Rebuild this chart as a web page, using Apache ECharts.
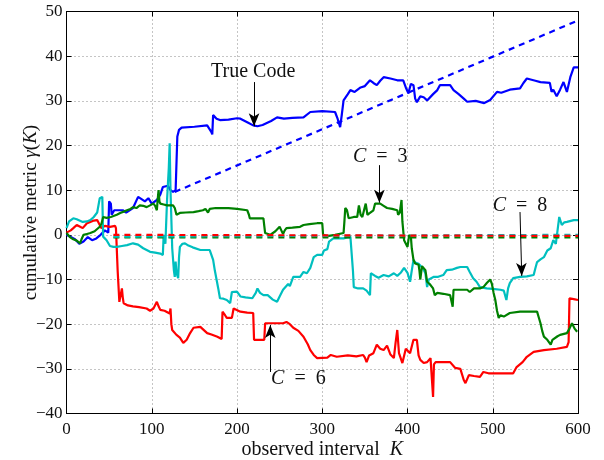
<!DOCTYPE html>
<html>
<head>
<meta charset="utf-8">
<script src="https://cdn.jsdelivr.net/npm/echarts@6/dist/echarts.min.js"></script>
<style>html,body{margin:0;padding:0;background:#fff}#c{width:604px;height:460px}</style>
</head>
<body>
<div id="c"></div>
<script>
// ---- data ----
const trueCode = [[0,0],[5,-0.5],[10,-1],[15,-2],[20,-1.5],[25,-0.5],[30,-1.2],[35,-0.8],[40,0],[45,1],[49,0.5],[50,7.5],[52,7],[53,4.5],[56,5.5],[60,5.5],[66,5.5],[70,5],[78,6],[84,8.5],[88,8],[92,7.5],[96,8.2],[100,7],[106,7.8],[110,9],[113,10.7],[119,11],[122,10],[125,9.6],[128,10],[130,22],[132,23.5],[135,24],[150,24.2],[165,24.5],[170,23],[171,22.5],[172,26.8],[176,26],[180,25.7],[190,25.8],[200,26.1],[204,26],[212,25.2],[219,24.5],[224,24.3],[230,24.6],[240,25.5],[247,26.3],[255,26],[265,26.2],[278,26.3],[286,27.5],[300,27.7],[315,27.5],[318,26],[321,24.1],[323,27],[325,30.1],[330,31.5],[333,32.4],[338,32],[345,33],[350,33.3],[356,34.6],[360,34],[364,33.5],[368,34.5],[372,35.3],[380,35],[388,34.6],[395,34.6],[398,33],[401,31.7],[404,33.8],[407,33.5],[409,30.5],[411,29.7],[415,31],[419,30.8],[423,30.1],[430,31.5],[435,32.4],[438,33.5],[442,33.5],[450,33.5],[454,32.4],[460,31.5],[466,30.5],[470,29.8],[480,30],[490,29.5],[497,30.2],[505,32],[510,31.8],[520,32.5],[532,32.8],[536,34],[540,35],[550,34.5],[556,34.2],[567,34],[569,32],[571,32.5],[575,31],[579,32.5],[583,34.2],[587,32],[591,35.3],[595,37.5],[600,37.5]];
const c6 = [[0,0.5],[5,1],[8,1.5],[12,2.2],[16,1.8],[19,1.5],[24,2.6],[28,2.9],[32,3.2],[36,3.3],[39,2.2],[41,1.5],[45,2],[51,1.8],[57,2],[58,1.5],[60,-8],[62,-15],[64,-13],[65,-12],[66,-14],[67,-15.3],[72,-15.8],[78,-16],[85,-16.2],[94,-16.5],[98,-17],[102,-16.5],[106,-15],[108,-16],[110,-16.8],[115,-17],[121,-17.6],[122,-16.5],[123,-20],[124,-21.3],[129,-22.4],[133,-23],[137,-24.2],[141,-23.5],[145,-22],[149,-20.8],[157,-20.6],[165,-22],[170,-22.3],[177,-22.8],[182,-23.3],[183,-17.2],[186,-18],[188,-18.6],[194,-18.6],[196,-16.5],[198,-16.1],[204,-17.2],[212,-17.4],[219,-17.5],[220,-23.5],[227,-23.5],[232,-23.5],[233,-19.8],[239,-19.8],[254,-19.8],[258,-19.5],[262,-20],[266,-20.8],[272,-21.5],[278,-22.8],[283,-24.5],[286,-25.8],[290,-26.9],[294,-27.6],[306,-27.5],[310,-26.9],[317,-27.3],[330,-27],[340,-27.2],[348,-26.9],[350,-27.5],[352,-28.5],[355,-27],[360,-26.5],[364,-24.6],[368,-25.5],[372,-25.8],[376,-24.8],[380,-26.8],[384,-27.6],[386,-24.2],[388,-21.3],[390,-26.5],[394,-28.7],[398,-25.5],[403,-26.5],[407,-23.5],[409,-23.1],[411,-23.5],[413,-27],[415,-28],[419,-28.7],[423,-28.5],[427,-27.6],[429,-28],[430,-36.3],[431,-29],[433,-28.5],[450,-28.5],[456,-29.8],[462,-30],[466,-32.5],[468,-33.2],[472,-31.4],[478,-31.6],[485,-31.8],[489,-30.7],[495,-31],[509,-31],[524,-31],[528,-29.6],[535,-28.5],[540,-27.3],[548,-26.2],[560,-25.8],[575,-25.5],[587,-25.1],[589,-24],[590,-14.2],[595,-14.4],[600,-14.6]];
const c3 = [[0,0.4],[4,-0.5],[8,-1],[12,-1.3],[14,-1.6],[16,-1.9],[18,-0.8],[20,0],[24,0.2],[28,0.4],[33,0.8],[39,1.8],[41,2.5],[43,4],[47,3.8],[52,4],[59,4.5],[63,4.9],[67,5.2],[71,5.5],[75,5.8],[78,6.2],[82,6],[86,6.6],[90,6.5],[94,6.2],[98,6.6],[102,7],[104,6.5],[106,5.5],[107,8],[108,10],[109,7.5],[110,7],[114,6.8],[118,6.6],[125,6.6],[127,6],[129,4.5],[133,4.9],[140,5],[149,5.1],[155,5.3],[160,5.5],[163,5.8],[165,6.2],[166,5],[168,5.8],[175,6],[184,6],[190,6],[200,5.8],[212,5.5],[214,4.5],[215,3.7],[225,3.7],[231,3.7],[232,2],[233,0.4],[239,0],[245,0.8],[250,1.8],[252,1],[254,0.2],[256,1],[258,1.5],[265,1.6],[274,1.8],[278,2.2],[285,2.4],[294,2.6],[300,2.6],[301,0],[306,-0.3],[315,0],[325,0.4],[326,3],[327,6],[329,5.5],[331,3.7],[337,4],[341,4],[343,6.6],[345,4.5],[347,4],[349,5.5],[351,7],[353,4.5],[356,4.9],[360,5.5],[362,7],[368,7],[372,6.5],[376,6],[382,5.8],[388,5.5],[389,4.5],[391,5],[393,7.8],[394,3],[396,-1.2],[398,-1],[400,-2.7],[402,0],[404,-0.5],[405,-3],[407,-5.6],[409,-6.4],[413,-6.7],[414,-8],[415,-10],[417,-7],[421,-7.9],[423,-10.5],[426,-11],[430,-12],[432,-13.5],[435,-13],[442,-13.2],[450,-13.5],[452,-13.5],[453,-16.1],[454,-12.3],[460,-12.3],[470,-12.3],[473,-12.8],[478,-12],[485,-12],[489,-11.7],[493,-10.8],[497,-10],[499,-11],[501,-13],[503,-14.6],[505,-17],[507,-18.6],[509,-18],[513,-18.3],[520,-17.5],[532,-17.2],[545,-17.2],[552,-17.2],[554,-18.5],[556,-19.8],[558,-21.5],[560,-22.8],[564,-23.5],[568,-24.6],[570,-23.5],[572,-23.1],[576,-22.7],[579,-22.4],[587,-22],[590,-21],[593,-19.8],[596,-21],[599,-21.7]];
const c8 = [[0,1.5],[3,3],[8,3.7],[12,3.5],[19,2.9],[24,3],[28,3.3],[32,4],[36,5],[39,8.2],[42,8.5],[43,-0.4],[47,-1.2],[51,-2.5],[55,-2.7],[59,-2.7],[65,-2.5],[71,-2.3],[78,-1.9],[84,-2.2],[90,-3],[98,-3.8],[104,-4],[110,-4.2],[113,-4.5],[114,0],[116,-2],[118,8],[120,15],[121,20.5],[122,10],[124,-3],[126,-8],[127,-9.4],[128,-6],[129,-8.5],[131,-9.7],[132,-5],[133,-2.7],[136,-2],[139,-1.9],[143,-2.4],[148,-2.8],[157,-3.4],[162,-3.4],[168,-3.4],[172,-5.6],[174,-8],[176,-10],[178,-12],[180,-14.2],[184,-14.3],[188,-14.6],[192,-15.3],[194,-12.8],[200,-12.7],[204,-13.8],[210,-14],[218,-14.2],[222,-13],[224,-12],[227,-13],[231,-13.5],[236,-13.5],[242,-14.5],[247,-15],[250,-13.8],[254,-12.3],[260,-11],[262,-11.5],[266,-9.4],[270,-9.4],[274,-9.4],[278,-8.3],[282,-8.6],[286,-7.4],[290,-5],[294,-4.5],[300,-4.5],[302,-3.5],[306,-3.2],[308,-1.5],[310,-1.2],[313,-0.8],[325,-0.8],[333,-0.4],[335,-0.6],[336,-8],[337,-11.7],[342,-12],[348,-12],[352,-12.5],[356,-13.5],[357,-8.6],[362,-9.2],[366,-9.6],[372,-9],[378,-9.3],[384,-8.6],[388,-9.2],[392,-8.5],[396,-7.4],[400,-8.5],[403,-10.5],[405,-8],[407,-5.6],[409,-6.2],[411,-6],[413,-6.5],[415,-6.4],[418,-7.5],[421,-8.6],[423,-11.7],[425,-10],[427,-10],[431,-9.4],[436,-9.4],[442,-9],[446,-7.9],[452,-7.8],[458,-7.4],[462,-7.2],[470,-7.2],[473,-8.3],[477,-9.7],[481,-10.5],[485,-11.7],[493,-12],[500,-12.1],[509,-12.3],[513,-12.5],[516,-14.6],[518,-12],[520,-10.8],[524,-9.7],[532,-9.4],[540,-9.3],[548,-9],[550,-7.5],[552,-6.1],[556,-5.5],[560,-5],[564,-3.5],[568,-3],[571,-1.2],[574,-2],[578,4],[581,2.2],[584,2.8],[587,2.9],[595,3.3],[600,3.3]];
const trueCodeExpected = [[127,9.6],[600,48]];
const c6Expected = [[55,0],[600,-0.25]];
const c8Expected = [[55,-0.4],[600,0]];
const c3Expected = [[55,-0.6],[600,-0.6]];
// annotations: [textX, textY, label, arrowFromX, arrowFromY, arrowToX, arrowToY]
const notes = [
  [219, 36.4, 'True Code', 220, 34.2, 220, 24.3],
  [368, 17.4, 'C = 3', 367, 15.6, 367, 7.2],
  [532, 6.4, 'C = 8', 532, 5.1, 534, -9.2],
  [272, -32.3, 'C = 6', 239, -30.7, 239, -20.2]
];
const xTicks = [0, 100, 200, 300, 400, 500, 600];
const yTicks = [-40, -30, -20, -10, 0, 10, 20, 30, 40, 50];

const SERIF = '"Liberation Serif", "DejaVu Serif", serif';
const BLUE = '#0000ff', RED = '#ff0000', GREEN = '#008000', TEAL = '#00bfbf';

function solid(name, data, color) {
  return { name, type: 'line', data, showSymbol: false, symbol: 'none', smooth: false,
    lineStyle: { color, width: 2.2 }, itemStyle: { color }, silent: true, animation: false, z: 3 };
}
function dashed(name, data, color) {
  return { name, type: 'line', data, showSymbol: false, symbol: 'none',
    lineStyle: { color, width: 2.2, type: [6, 5] }, itemStyle: { color }, silent: true, animation: false, z: 4 };
}
function noteText(s) {
  if (s.startsWith('C')) return '{i|C}\u2002=\u2002' + s.split('=')[1].trim();
  return s;
}

const annot = {
  type: 'line', data: [], silent: true, animation: false, z: 6,
  markLine: {
    silent: true, animation: false, symbol: ['none', 'arrow'], symbolSize: [8, 13],
    lineStyle: { color: '#000', width: 1, type: 'solid' }, label: { show: false },
    data: notes.map(n => [{ coord: [n[3], n[4]] }, { coord: [n[5], n[6]] }])
  },
  markPoint: {
    silent: true, animation: false, symbol: 'circle', symbolSize: 0,
    label: { show: true, position: 'inside', color: '#111', fontFamily: SERIF, fontSize: 20,
      formatter: p => noteText(p.name),
      rich: { i: { fontFamily: SERIF, fontStyle: 'italic', fontSize: 20, color: '#111' } } },
    data: notes.map(n => ({ name: n[2], coord: [n[0], n[1]] }))
  }
};

const tickLbl = v => String(v).replace('-', '\u2212');
const gridLine = { show: true, lineStyle: { color: '#8a8a8a', width: 1, type: [1, 3] } };
const axLine = { show: true, onZero: false, lineStyle: { color: '#000', width: 1 } };
const axTick = { show: true, inside: true, length: 5, lineStyle: { color: '#000' } };

const chart = echarts.init(document.getElementById('c'), null, { renderer: 'canvas' });
chart.setOption({
  animation: false,
  backgroundColor: '#fff',
  grid: { left: 66.5, right: 26, top: 11.5, bottom: 46.5, containLabel: false, outerBoundsMode: 'none' },
  xAxis: [
    { type: 'value', min: xTicks[0], max: xTicks[xTicks.length - 1], interval: 100, position: 'bottom',
      axisLine: axLine, axisTick: axTick, splitLine: gridLine,
      axisLabel: { color: '#111', fontFamily: SERIF, fontSize: 17, margin: 8, formatter: tickLbl },
      name: 'observed interval\u2002{i|K}', nameLocation: 'middle', nameGap: 26, nameMoveOverlap: false,
      nameTextStyle: { color: '#111', fontFamily: SERIF, fontSize: 20,
        rich: { i: { fontFamily: SERIF, fontStyle: 'italic', fontSize: 20, color: '#111' } } } },
    { type: 'value', min: xTicks[0], max: xTicks[xTicks.length - 1], interval: 100, position: 'top',
      axisLine: axLine, axisTick: axTick, splitLine: { show: false }, axisLabel: { show: false } }
  ],
  yAxis: [
    { type: 'value', min: yTicks[0], max: yTicks[yTicks.length - 1], interval: 10, position: 'left',
      axisLine: axLine, axisTick: axTick, splitLine: gridLine,
      axisLabel: { color: '#111', fontFamily: SERIF, fontSize: 17, margin: 4, formatter: tickLbl },
      name: 'cumulative metric {i|γ}({i|K})', nameLocation: 'middle', nameGap: 26, nameRotate: 90, nameMoveOverlap: false,
      nameTextStyle: { color: '#111', fontFamily: SERIF, fontSize: 19,
        rich: { i: { fontFamily: SERIF, fontStyle: 'italic', fontSize: 19, color: '#111' } } } },
    { type: 'value', min: yTicks[0], max: yTicks[yTicks.length - 1], interval: 10, position: 'right',
      axisLine: axLine, axisTick: axTick, splitLine: { show: false }, axisLabel: { show: false } }
  ],
  series: [
    solid('True Code', trueCode, BLUE),
    solid('C = 6', c6, RED),
    solid('C = 8', c8, TEAL),
    solid('C = 3', c3, GREEN),
    dashed('True Code expected', trueCodeExpected, BLUE),
    dashed('C = 3 expected', c3Expected, GREEN),
    dashed('C = 8 expected', c8Expected, TEAL),
    dashed('C = 6 expected', c6Expected, RED),
    annot
  ]
});
</script>
</body>
</html>
